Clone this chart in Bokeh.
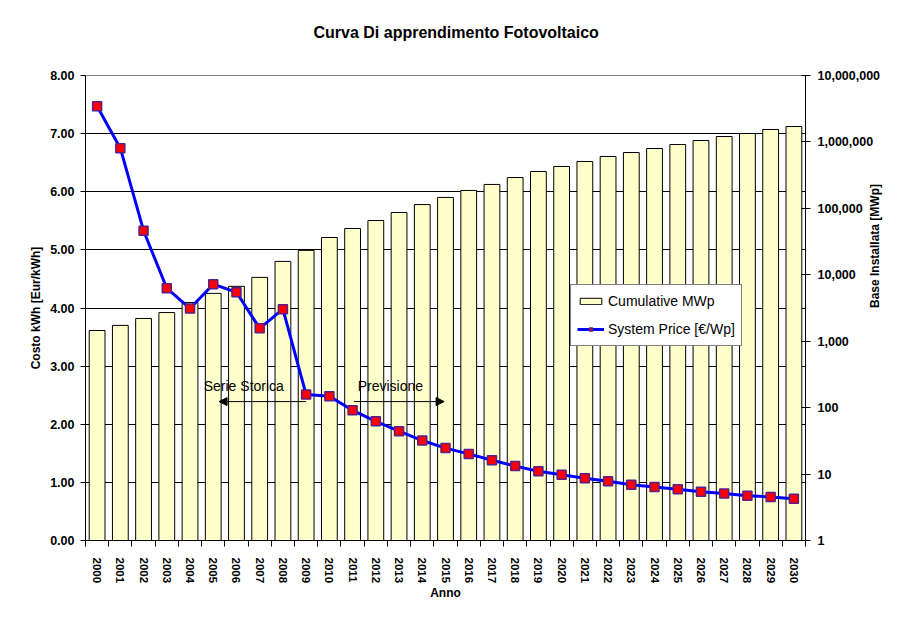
import math
from bokeh.plotting import figure
from bokeh.models import (Range1d, LogScale, LinearAxis, LogAxis, FixedTicker, NumeralTickFormatter,
                          Legend, LegendItem, Label, Arrow, NormalHead, ColumnDataSource)
from bokeh.embed import file_html
from bokeh.resources import INLINE

# ---- data ----
years = [str(y) for y in range(2000, 2031)]
cumulative_mwp = [1450, 1730, 2200, 2700, 3830, 5250, 6700, 9140, 15900, 23300,
                  36400, 49800, 65600, 86700, 114000, 146000, 186000, 229000, 291000, 359000,
                  427000, 507000, 604000, 693000, 796000, 914000, 1050000, 1207000, 1339000, 1538000,
                  1706000]
system_price = [7.47, 6.75, 5.33, 4.34, 3.99, 4.41, 4.27, 3.65, 3.98, 2.51,
                2.48, 2.24, 2.05, 1.88, 1.72, 1.59, 1.49, 1.38, 1.28, 1.19,
                1.13, 1.07, 1.02, 0.96, 0.92, 0.88, 0.84, 0.81, 0.77, 0.75,
                0.72]
left_ticks = [0, 1, 2, 3, 4, 5, 6, 7, 8]
right_ticks = [1, 10, 100, 1000, 10000, 100000, 1000000, 10000000]

FONT = "Liberation Sans"
idx = list(range(len(years)))
src = ColumnDataSource(dict(x=idx, year=years, cum=cumulative_mwp, price=system_price))

p = figure(width=903, height=615, output_backend="svg", toolbar_location=None,
           x_range=Range1d(-0.5, len(years) - 0.5), y_range=Range1d(0, 8),
           x_axis_location=None, y_axis_location=None,
           min_border_left=85, min_border_right=98, min_border_top=75, min_border_bottom=75)
p.background_fill_color = "white"
p.border_fill_color = "white"
p.outline_line_color = "#808080"
p.xgrid.grid_line_color = None
p.extra_y_ranges = {"log": Range1d(1, 1e7)}
p.extra_y_scales = {"log": LogScale()}

# title
p.title.text = "Curva Di apprendimento Fotovoltaico"
p.title.align = "left"
p.title.text_font = FONT
p.title.text_font_style = "bold"
p.title.text_font_size = "16px"
p.title.text_color = "black"
p.title.standoff = 0
p.title.offset = 228

# invisible spacer axis above the frame (pushes the title up)
spacer = LinearAxis(ticker=FixedTicker(ticks=[15]), major_label_overrides={15: " "})
spacer.axis_line_color = None
spacer.major_tick_line_color = None
spacer.minor_tick_line_color = None
spacer.major_tick_out = 35
spacer.major_tick_in = 0
spacer.major_label_standoff = 0
spacer.major_label_text_font_size = "2px"
spacer.major_label_text_color = None
p.add_layout(spacer, "above")

# grid
p.ygrid.ticker = FixedTicker(ticks=left_ticks[1:-1])
p.ygrid.grid_line_color = "black"
p.ygrid.grid_line_width = 1

# bars (log scale)
bars = p.vbar(x="x", top="cum", bottom=1, width=0.68, source=src, y_range_name="log",
              fill_color="#FFFFCC", line_color="black", line_width=1)
# price line
line = p.line(x="x", y="price", source=src, line_color="#0000FF", line_width=3)
marks = p.scatter(x="x", y="price", source=src, marker="square", size=9,
                  fill_color="#FF0000", line_color="#5A1E8C", line_width=1.5)

# axes
xa = LinearAxis(ticker=FixedTicker(ticks=idx, minor_ticks=[i - 0.5 for i in range(len(years) + 1)]),
                major_label_overrides={i: y for i, y in zip(idx, years)})
xa.major_label_orientation = "vertical"
xa.major_tick_line_color = None
xa.major_tick_out = 0
xa.major_tick_in = 0
xa.minor_tick_line_color = "black"
xa.minor_tick_out = 6
xa.minor_tick_in = 0
xa.major_label_standoff = 11
xa.major_label_text_font = FONT
xa.major_label_text_font_style = "bold"
xa.major_label_text_font_size = "11.5px"
xa.major_label_text_color = "black"
xa.axis_label = "Anno"
xa.axis_label_text_font = FONT
xa.axis_label_text_font_style = "bold"
xa.axis_label_text_font_size = "12px"
xa.axis_label_text_color = "black"
xa.axis_label_standoff = 0
xa.axis_line_color = "black"
p.add_layout(xa, "below")

ya = LinearAxis(ticker=FixedTicker(ticks=left_ticks), formatter=NumeralTickFormatter(format="0.00"))
ya.major_tick_out = 5
ya.major_tick_in = 0
ya.minor_tick_line_color = None
ya.major_label_standoff = 6
ya.major_label_text_font = FONT
ya.major_label_text_font_style = "bold"
ya.major_label_text_font_size = "12.5px"
ya.major_label_text_color = "black"
ya.axis_label = "Costo kWh [Eur/kWh]"
ya.axis_label_text_font = FONT
ya.axis_label_text_font_style = "bold"
ya.axis_label_text_font_size = "12px"
ya.axis_label_text_color = "black"
ya.axis_label_standoff = 4
ya.axis_line_color = "black"
p.add_layout(ya, "left")

ra = LogAxis(y_range_name="log", ticker=FixedTicker(ticks=right_ticks),
             formatter=NumeralTickFormatter(format="0,0"))
ra.major_tick_out = 5
ra.major_tick_in = 4
ra.minor_tick_line_color = None
ra.major_label_standoff = 7
ra.major_label_text_font = FONT
ra.major_label_text_font_style = "bold"
ra.major_label_text_font_size = "12.5px"
ra.major_label_text_color = "black"
ra.axis_label = "Base Installata [MWp]"
ra.axis_label_text_font = FONT
ra.axis_label_text_font_style = "bold"
ra.axis_label_text_font_size = "12px"
ra.axis_label_text_color = "black"
ra.axis_label_standoff = -8
try:
    ra.axis_label_orientation = math.pi / 2
except Exception:
    pass
ra.axis_line_color = "black"
p.add_layout(ra, "right")

# annotations
p.add_layout(Label(x=4.59, y=2.655, text="Serie Storica", text_align="left", text_baseline="middle",
                   text_font=FONT, text_font_size="14px", text_color="black"))
p.add_layout(Label(x=11.22, y=2.655, text="Previsione", text_align="left", text_baseline="middle",
                   text_font=FONT, text_font_size="14px", text_color="black"))
p.add_layout(Arrow(x_start=9.0, y_start=2.39, x_end=5.25, y_end=2.39, line_width=1, line_color="black",
                   end=NormalHead(size=8, fill_color="black", line_color="black")))
p.add_layout(Arrow(x_start=11.06, y_start=2.39, x_end=14.94, y_end=2.39, line_width=1, line_color="black",
                   end=NormalHead(size=8, fill_color="black", line_color="black")))

legend = Legend(items=[LegendItem(label="Cumulative MWp", renderers=[bars]),
                       LegendItem(label="System Price [€/Wp]", renderers=[line, marks])],
                location=(485, 194))
legend.label_text_font = FONT
legend.label_text_font_size = "14px"
legend.label_text_color = "black"
legend.label_height = 20
legend.glyph_height = 8
legend.glyph_width = 27
legend.label_standoff = 4
legend.spacing = 8
legend.padding = 6
legend.margin = 0
legend.border_line_color = "black"
legend.border_line_width = 1
legend.background_fill_color = "white"
legend.background_fill_alpha = 1
p.add_layout(legend, "center")

open("out.html", "w").write(file_html(p, INLINE))
